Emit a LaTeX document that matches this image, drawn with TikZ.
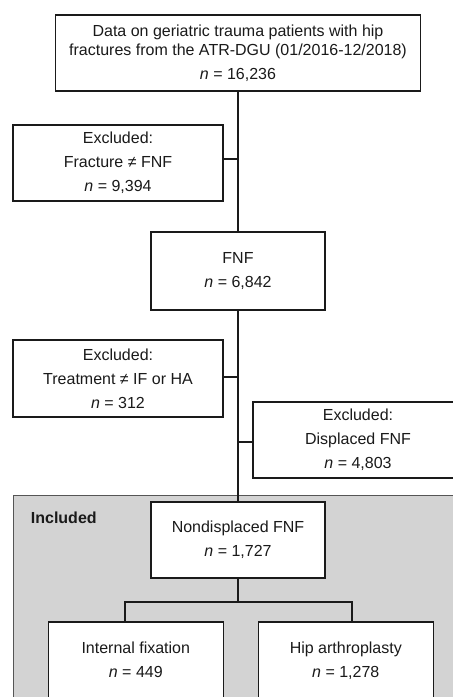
\documentclass[tikz,border=0pt]{standalone}
\usepackage{fontspec}
\setmainfont{Liberation Sans}
\definecolor{incgray}{HTML}{D3D3D3}
\definecolor{incborder}{HTML}{555555}
\definecolor{ink}{HTML}{1A1A1A}
\begin{document}
\begin{tikzpicture}[x=1pt,y=-1pt,
  box/.style={draw=ink, line width=1.3pt, fill=white, align=center, inner sep=0pt,
    text=ink, font=\fontsize{16}{24}\selectfont},
  conn/.style={draw=ink, line width=1.3pt},
  lbl/.style={inner sep=0pt, text=ink, font=\fontsize{16}{19}\selectfont\bfseries}]
\useasboundingbox (0,0) rectangle (453,697);

% included region
\path[fill=incgray, draw=incborder, line width=0.8pt] (13,495) rectangle (475,720);
\node[lbl, anchor=west] (inc) at (30.7,517.7) {Included};

\node[box, minimum width=365pt, minimum height=76pt] (top) at (238,53)
  {Data on geriatric trauma patients with hip\\[-5pt]fractures from the ATR-DGU (01/2016-12/2018)\\ \textit{n} = 16,236};
\node[box, minimum width=210pt, minimum height=76pt] (ex1) at (118,163)
  {Excluded:\\Fracture ≠ FNF\\ \textit{n} = 9,394};
\node[box, minimum width=174pt, minimum height=78pt] (fnf) at (238,271)
  {FNF\\ \textit{n} = 6,842};
\node[box, minimum width=210pt, minimum height=77pt] (ex2) at (118,378.5)
  {Excluded:\\Treatment ≠ IF or HA\\ \textit{n} = 312};
\node[box, minimum width=210pt, minimum height=76pt] (ex3) at (358,440)
  {Excluded:\\Displaced FNF\\ \textit{n} = 4,803};
\node[box, minimum width=174pt, minimum height=76pt] (nd) at (238,540)
  {Nondisplaced FNF\\ \textit{n} = 1,727};
\node[box, minimum width=175pt, minimum height=76.5pt] (ifx) at (135.8,660.25)
  {Internal fixation\\ \textit{n} = 449};
\node[box, minimum width=175pt, minimum height=76.5pt] (hax) at (345.8,660.25)
  {Hip arthroplasty\\ \textit{n} = 1,278};

% connectors
\draw[conn] (top.south) -- (fnf.north);
\coordinate (j1) at ([yshift=4pt]ex1.east);
\draw[conn] (j1) -- (j1 -| top.south);
\draw[conn] (fnf.south) -- (nd.north);
\coordinate (j2) at ([yshift=1.5pt]ex2.east);
\draw[conn] (j2) -- (j2 -| fnf.south);
\coordinate (j3) at ([yshift=-2pt]ex3.west);
\draw[conn] (j3) -- (j3 -| fnf.south);
\coordinate (bl) at (125,602);
\coordinate (br) at (352,602);
\draw[conn] (nd.south) -- (nd.south |- bl);
\draw[conn] (bl |- ifx.north) -- (bl) -- (br) -- (br |- hax.north);
\end{tikzpicture}
\end{document}
